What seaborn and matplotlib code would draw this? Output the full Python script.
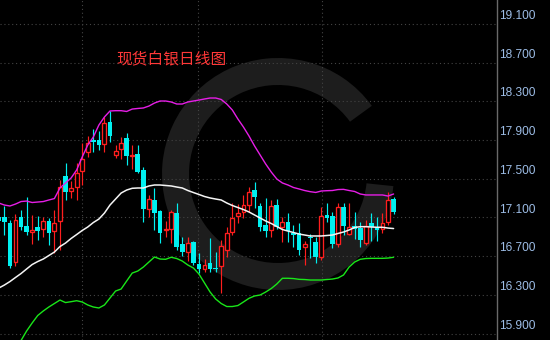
import numpy as np
import pandas as pd
import matplotlib
matplotlib.use("Agg")
import matplotlib.pyplot as plt
import seaborn as sns
from matplotlib.patches import Wedge

# ---------------- data ----------------
title = "现货白银日线图"
tick_values = [15.9, 16.3, 16.7, 17.1, 17.5, 17.9, 18.3, 18.7, 19.1]
tick_labels = ["15.900", "16.300", "16.700", "17.100", "17.500",
               "17.900", "18.300", "18.700", "19.100"]

opens = [17.104, 17.107, 17.039, 16.642, 17.107, 17.011, 16.946, 16.998, 16.977, 17.063,
         16.963, 17.066, 17.528, 17.376, 17.414, 17.583, 17.779, 17.895, 17.900, 17.859,
         18.089, 17.742, 17.804, 17.918, 17.735, 17.755, 17.590, 17.187, 17.280, 17.169,
         16.970, 16.977, 17.142, 16.825, 16.745, 16.846, 16.618, 16.563, 16.625, 16.573,
         16.598, 16.763, 16.952, 17.114, 17.159, 17.228, 17.383, 17.218, 17.021, 16.970,
         17.228, 17.006, 17.056, 16.942, 16.936, 16.791, 16.901, 16.849, 16.687, 17.125,
         17.114, 16.825, 17.204, 16.928, 17.011, 16.987, 16.832, 17.045, 16.998, 16.977,
         17.056, 17.287]
highs = [17.135, 17.218, 17.073, 17.132, 17.176, 17.308, 17.125, 17.114, 17.107, 17.091,
         17.176, 17.487, 17.665, 17.476, 17.662, 17.869, 17.941, 18.014, 17.993, 18.141,
         18.203, 17.848, 17.934, 17.969, 17.848, 17.848, 17.624, 17.332, 17.401, 17.176,
         17.066, 17.176, 17.252, 16.894, 16.894, 16.856, 16.729, 16.667, 16.884, 16.746,
         16.866, 17.004, 17.246, 17.238, 17.332, 17.417, 17.469, 17.246, 17.297, 17.280,
         17.287, 17.107, 17.142, 17.021, 17.039, 16.859, 16.930, 16.901, 17.211, 17.246,
         17.159, 17.252, 17.246, 17.246, 17.152, 17.056, 17.073, 17.142, 17.101, 17.142,
         17.366, 17.308]
lows = [17.032, 16.918, 16.574, 16.598, 16.970, 16.918, 16.825, 16.866, 16.901, 16.815,
        16.729, 16.763, 17.280, 17.297, 17.280, 17.435, 17.727, 17.779, 17.797, 17.779,
        17.882, 17.711, 17.701, 17.642, 17.597, 17.556, 17.056, 17.101, 16.970, 16.832,
        16.901, 16.832, 16.763, 16.701, 16.652, 16.608, 16.522, 16.539, 16.539, 16.539,
        16.322, 16.694, 16.918, 17.039, 17.091, 17.159, 17.194, 16.963, 16.894, 16.901,
        16.977, 16.849, 16.849, 16.797, 16.711, 16.608, 16.677, 16.632, 16.660, 17.056,
        16.780, 16.797, 16.918, 16.918, 16.880, 16.791, 16.815, 16.859, 16.859, 16.942,
        17.021, 17.135]
closes = [17.063, 17.056, 16.598, 17.073, 17.004, 16.952, 16.970, 16.963, 17.063, 16.936,
          17.045, 17.417, 17.366, 17.401, 17.559, 17.701, 17.869, 17.879, 17.853, 18.073,
          17.941, 17.786, 17.872, 17.735, 17.742, 17.572, 17.192, 17.287, 17.149, 16.936,
          16.977, 17.159, 16.797, 16.745, 16.839, 16.632, 16.563, 16.608, 16.563, 16.566,
          16.804, 16.936, 17.091, 17.142, 17.228, 17.366, 17.308, 16.998, 16.963, 17.218,
          16.998, 17.052, 16.963, 16.918, 16.763, 16.825, 16.884, 16.694, 17.114, 17.097,
          16.825, 17.204, 17.011, 16.998, 16.977, 16.866, 17.011, 17.004, 16.970, 17.045,
          17.280, 17.159]
upper_band = [17.249, 17.228, 17.218, 17.238, 17.264, 17.269, 17.254, 17.259, 17.264, 17.280,
              17.295, 17.404, 17.456, 17.507, 17.590, 17.724, 17.848, 17.931, 18.055, 18.138,
              18.200, 18.203, 18.203, 18.195, 18.220, 18.226, 18.231, 18.251, 18.282, 18.303,
              18.303, 18.293, 18.272, 18.272, 18.293, 18.303, 18.313, 18.324, 18.334, 18.334,
              18.319, 18.272, 18.210, 18.117, 18.034, 17.941, 17.838, 17.745, 17.652, 17.569,
              17.497, 17.456, 17.435, 17.409, 17.394, 17.378, 17.366, 17.358, 17.373, 17.376,
              17.378, 17.388, 17.390, 17.378, 17.368, 17.342, 17.332, 17.332, 17.332, 17.332,
              17.321, 17.342]
middle_band = [16.370, 16.401, 16.437, 16.479, 16.520, 16.567, 16.613, 16.644, 16.670, 16.706,
               16.742, 16.799, 16.835, 16.882, 16.923, 16.965, 17.001, 17.047, 17.083, 17.145,
               17.228, 17.290, 17.352, 17.383, 17.401, 17.404, 17.404, 17.425, 17.435, 17.435,
               17.430, 17.425, 17.414, 17.404, 17.378, 17.357, 17.337, 17.316, 17.301, 17.290,
               17.280, 17.249, 17.223, 17.202, 17.181, 17.156, 17.125, 17.094, 17.063, 17.037,
               17.006, 16.975, 16.959, 16.944, 16.928, 16.918, 16.908, 16.908, 16.908, 16.913,
               16.918, 16.934, 16.949, 16.970, 16.996, 17.004, 17.004, 17.001, 16.998, 16.998,
               16.990, 16.985]
lower_band = [15.502, 15.585, 15.667, 15.750, 15.828, 15.926, 16.009, 16.086, 16.133, 16.174,
              16.210, 16.246, 16.220, 16.229, 16.239, 16.226, 16.195, 16.174, 16.164, 16.195,
              16.267, 16.339, 16.360, 16.443, 16.525, 16.546, 16.587, 16.639, 16.691, 16.670,
              16.667, 16.688, 16.675, 16.649, 16.608, 16.577, 16.515, 16.422, 16.329, 16.257,
              16.210, 16.179, 16.179, 16.189, 16.226, 16.264, 16.288, 16.298, 16.329, 16.365,
              16.412, 16.471, 16.471, 16.468, 16.460, 16.458, 16.453, 16.453, 16.453, 16.458,
              16.463, 16.474, 16.505, 16.587, 16.639, 16.667, 16.675, 16.677, 16.677, 16.677,
              16.680, 16.688]

# ---------------- style ----------------
CYAN = "#00f0f0"
RED = "#ff1e1e"
MAGENTA = "#e61ee6"
GREEN = "#19e619"
WHITE = "#f4f4f4"

sns.set_theme(style="dark", rc={"axes.facecolor": "black", "figure.facecolor": "black"})
plt.rcParams["font.family"] = ["Noto Sans CJK SC", "DejaVu Sans"]

fig = plt.figure(figsize=(5.5, 3.4), dpi=100)
fig.patch.set_facecolor("black")
ax = fig.add_axes([0, 0, 497 / 550, 1])
ax.set_facecolor("black")

# watermark ring
ring = Wedge((2.78, 3.4 - 1.74), 1.16, 36, 354, width=0.27,
             transform=fig.dpi_scale_trans, facecolor="#1d1d1d", edgecolor="none", zorder=0.5)
ax.add_patch(ring)

# grid
for v in tick_values:
    ax.axhline(v, color="#444444", lw=0.8, ls=(0, (1, 2.5)), zorder=1)
for xv in [14.95, 35.8, 58.1]:
    ax.axvline(xv, color="#444444", lw=0.8, ls=(0, (1, 2.5)), zorder=1)

df = pd.DataFrame({"i": np.arange(len(opens)), "open": opens, "high": highs,
                   "low": lows, "close": closes})
up = df[df["close"] >= df["open"]]
dn = df[df["close"] < df["open"]]

ax.vlines(dn["i"], dn["low"], dn["high"], color=CYAN, lw=0.85, zorder=2)
ax.bar(dn["i"], np.maximum(dn["open"] - dn["close"], 0.006), bottom=dn["close"],
       width=0.84, color=CYAN, linewidth=0, zorder=3)
ax.vlines(up["i"], up["low"], up["high"], color=RED, lw=0.85, zorder=2)
ax.bar(up["i"], np.maximum(up["close"] - up["open"], 0.006), bottom=up["open"],
       width=0.7, facecolor="black", edgecolor=RED, linewidth=0.95, zorder=3)

bands = pd.DataFrame({"i": np.arange(len(opens)), "upper": upper_band,
                      "middle": middle_band, "lower": lower_band})
sns.lineplot(data=bands, x="i", y="upper", color=MAGENTA, lw=1.0, ax=ax, zorder=4)
sns.lineplot(data=bands, x="i", y="middle", color=WHITE, lw=1.1, ax=ax, zorder=4)
sns.lineplot(data=bands, x="i", y="lower", color=GREEN, lw=1.0, ax=ax, zorder=4)

ax.set_xlim(0.216, 89.6)
ax.set_ylim(15.833, 19.347)
ax.set_xlabel("")
ax.set_ylabel("")
ax.set_xticks([])
ax.set_yticks([])
for s in ["top", "left", "bottom"]:
    ax.spines[s].set_visible(False)
ax.spines["right"].set_visible(True)
ax.spines["right"].set_color("#6a6a6a")
ax.spines["right"].set_linewidth(1.0)

for v, lab in zip(tick_values, tick_labels):
    ax.annotate(lab, xy=(1, v), xycoords=("axes fraction", "data"),
                xytext=(1.2, 1.3), textcoords="offset points",
                ha="left", va="bottom", color="#9dbde6", fontsize=8.6,
                family=["Liberation Sans", "DejaVu Sans"], annotation_clip=False)

ax.text(116 / 497, 1 - 60 / 340, title, transform=ax.transAxes, ha="left", va="center",
        color="#ff3838", fontsize=11.3, family=["Noto Sans CJK SC", "DejaVu Sans"])

fig.savefig("out.png", dpi=100, facecolor="black")
